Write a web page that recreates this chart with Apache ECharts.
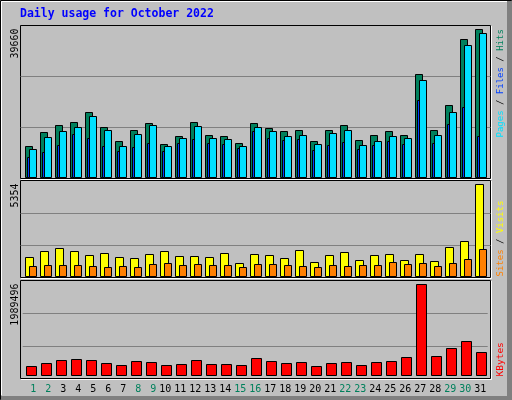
<!DOCTYPE html>
<html><head><meta charset="utf-8">
<script src="https://cdn.jsdelivr.net/npm/echarts@6/dist/echarts.min.js"></script>
<style>html,body{margin:0;padding:0;background:#C0C0C0}#c{width:512px;height:400px}</style>
</head><body><div id="c"></div>
<script>
// ---- data ----
const days = ['1','2','3','4','5','6','7','8','9','10','11','12','13','14','15','16','17','18','19','20','21','22','23','24','25','26','27','28','29','30','31'];
const weekendDays = [1,2,8,9,15,16,22,23,29,30];
const hits = [8454,12188,14055,14855,17522,13522,9788,12722,14588,8988,11121,14855,11388,11121,9254,14588,13255,12455,12722,9788,12722,14055,10055,11388,12455,11388,27657,12722,19389,36991,39660];
const files = [5681,6854,8721,11655,10588,8454,7121,8188,9254,7121,9254,10321,9254,8988,7921,12455,10588,10055,10321,7388,8721,9521,7654,8721,9788,8988,20723,9254,14322,18856,11121];
const pages = [7654,10855,12455,13522,16455,12722,8454,11655,14055,8454,10588,13788,10588,10321,8454,13522,12455,11121,11388,8988,11921,12722,8721,9788,11121,10588,26057,11388,17522,35391,38591];
const visits = [1138,1484,1658,1484,1253,1369,1138,1080,1311,1484,1196,1196,1138,1369,791,1311,1253,1080,1542,849,1253,1427,965,1253,1311,965,1311,907,1715,2062,5354];
const sites = [635,693,693,693,635,578,635,578,751,809,693,751,693,693,578,734,734,676,618,560,676,618,676,676,849,734,791,618,791,1022,1600];
const kbytes = [216960,275500,340600,362300,340600,275500,232100,318900,297200,232100,253800,340600,253800,253800,232100,384000,318900,275500,297200,210500,275500,297200,232100,297200,318900,405700,1989496,427400,601000,752900,514200];
const maxLabels = ['39660','5354','1989496'];
const titleText = 'Daily usage for October 2022';

// ---- axis ranges ----
const topMax = 40805, midMax = 5603, botMin = -43392, botMax = 2082816;
const XMIN = 0.35333, XMAX = XMIN + 470 / 15;
const MONO = "'DejaVu Sans Mono', monospace";
const LEGFONT = "9px 'DejaVu Sans Mono'";

function barSeries(values, gi, color, off, w, z) {
  return {
    type: 'custom', xAxisIndex: gi, yAxisIndex: gi, z: z, silent: true, clip: false,
    data: values.map((v, i) => [i + 1, v]),
    encode: { x: 0, y: 1 },
    renderItem: function (params, api) {
      const d = api.value(0), v = api.value(1);
      const top = api.coord([d, v]);
      const base = api.coord([d, 0]);
      const L = Math.round(top[0]) - 5;
      const yT = Math.floor(top[1]) + 0.5;
      const yB = Math.round(base[1] - 0.5) - 0.5;
      return { type: 'rect', shape: { x: L + off + 0.5, y: yT, width: w, height: yB - yT },
        style: { fill: color, stroke: '#000', lineWidth: 1 } };
    }
  };
}

function valueYAxis(gi, min, max, name, showSplit) {
  return {
    type: 'value', gridIndex: gi, min: min, max: max, interval: (max - min) / 3,
    offset: 5,
    axisLine: { show: false }, axisTick: { show: false }, axisLabel: { show: false },
    splitLine: { show: showSplit, showMinLine: false, showMaxLine: false, lineStyle: { color: '#808080', width: 1 } },
    name: name, nameLocation: 'end', nameRotate: 90, nameGap: -3,
    nameTextStyle: { fontFamily: MONO, fontSize: 10, color: '#000', align: 'right', verticalAlign: 'middle' }
  };
}

const gridBase = { left: 20.5, width: 470, show: true, borderColor: '#000', borderWidth: 1, backgroundColor: 'transparent' };

const option = {
  backgroundColor: '#C0C0C0',
  animation: false,
  title: { text: titleText, left: 20, top: 8, padding: 0,
    textStyle: { color: '#0000FF', fontFamily: MONO, fontWeight: 'bold', fontSize: 11.5 } },
  grid: [
    Object.assign({ top: 25.5, height: 153 }, gridBase),
    Object.assign({ top: 180.5, height: 97 }, gridBase),
    Object.assign({ top: 280.5, height: 98 }, gridBase),
    { left: 22.7, width: 465, top: 280.5, height: 98, show: false }
  ],
  xAxis: [
    { type: 'value', gridIndex: 0, min: XMIN, max: XMAX, show: false },
    { type: 'value', gridIndex: 1, min: XMIN, max: XMAX, show: false },
    { type: 'value', gridIndex: 2, min: XMIN, max: XMAX, show: false },
    { type: 'category', gridIndex: 3, data: days, position: 'bottom',
      axisLine: { show: false }, axisTick: { show: false }, splitLine: { show: false },
      axisLabel: { interval: 0, margin: 6, fontFamily: MONO, fontSize: 10,
        formatter: v => (v.length < 2 ? ' ' + v : v),
        color: (v) => weekendDays.indexOf(Number(v)) >= 0 ? '#00805C' : '#000000' } }
  ],
  yAxis: [
    valueYAxis(0, 0, topMax, maxLabels[0], true),
    valueYAxis(1, 0, midMax, maxLabels[1], true),
    valueYAxis(2, botMin, botMax, maxLabels[2], false),
    { type: 'value', gridIndex: 3, min: 0, max: 3, interval: 1, show: true,
      axisLine: { show: false }, axisTick: { show: false }, axisLabel: { show: false },
      splitLine: { show: true, showMinLine: false, showMaxLine: false, lineStyle: { color: '#808080', width: 1 } } }
  ],
  series: [
    barSeries(hits, 0, '#00805C', 0, 7, 2),
    barSeries(files, 0, '#0040FF', 2, 7, 3),
    barSeries(pages, 0, '#00E0FF', 4, 7, 4),
    barSeries(visits, 1, '#FFFF00', 0, 8, 2),
    barSeries(sites, 1, '#FF8000', 4, 7, 3),
    barSeries(kbytes, 2, '#FF0000', 1, 10, 2)
  ],
  graphic: [
    { type: 'rect', silent: true, z: 0, shape: { x: 0.5, y: 0.5, width: 511, height: 399 }, style: { fill: null, stroke: '#000', lineWidth: 1 } },
    { type: 'polyline', silent: true, shape: { points: [[1.5, 395], [1.5, 1.5], [507, 1.5]] }, style: { fill: null, stroke: '#FFFFFF', lineWidth: 1 } },
    { type: 'rect', silent: true, shape: { x: 507, y: 1, width: 5, height: 399 }, style: { fill: '#808080' } },
    { type: 'rect', silent: true, shape: { x: 1, y: 396, width: 511, height: 4 }, style: { fill: '#808080' } },
    { type: 'polyline', silent: true, shape: { points: [[21, 179.5], [491.5, 179.5], [491.5, 26]] }, style: { fill: null, stroke: '#FFFFFF', lineWidth: 1 } },
    { type: 'polyline', silent: true, shape: { points: [[21, 278.5], [491.5, 278.5], [491.5, 181]] }, style: { fill: null, stroke: '#FFFFFF', lineWidth: 1 } },
    { type: 'polyline', silent: true, shape: { points: [[21, 379.5], [491.5, 379.5], [491.5, 281]] }, style: { fill: null, stroke: '#FFFFFF', lineWidth: 1 } },
    { type: 'text', silent: true, x: 501, y: 137.5, rotation: Math.PI / 2,
      style: { text: '{p|Pages} / {f|Files} / {h|Hits}', fill: '#000', font: LEGFONT, align: 'left', verticalAlign: 'middle',
        rich: { p: { fill: '#00E0FF', font: LEGFONT }, f: { fill: '#0040FF', font: LEGFONT }, h: { fill: '#00805C', font: LEGFONT } } } },
    { type: 'text', silent: true, x: 501, y: 276.5, rotation: Math.PI / 2,
      style: { text: '{s|Sites} / {v|Visits}', fill: '#000', font: LEGFONT, align: 'left', verticalAlign: 'middle',
        rich: { s: { fill: '#FF8000', font: LEGFONT }, v: { fill: '#FFFF00', font: LEGFONT } } } },
    { type: 'text', silent: true, x: 501, y: 376.5, rotation: Math.PI / 2,
      style: { text: 'KBytes', fill: '#FF0000', font: "9.5px 'DejaVu Sans Mono'", align: 'left', verticalAlign: 'middle' } }
  ]
};

const chart = echarts.init(document.getElementById('c'), null, { renderer: 'canvas' });
chart.setOption(option);
</script>
</body></html>
